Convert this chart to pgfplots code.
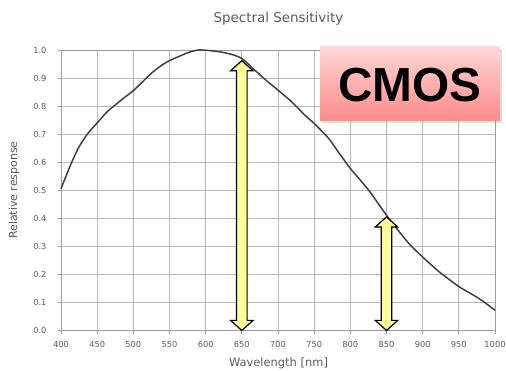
\documentclass[border=0pt]{standalone}
\usepackage{fontspec}
\setmainfont{DejaVu Sans}
\newfontfamily\cmosfont{Liberation Sans}
\usepackage{pgfplots}
\pgfplotsset{compat=1.18}
\usetikzlibrary{shadows}
\definecolor{txt}{HTML}{5A5A5A}
\definecolor{gridc}{HTML}{B8B8B8}
\definecolor{curve}{HTML}{3F3F3F}
\definecolor{arrowfill}{HTML}{FFFF99}
\definecolor{boxtop}{HTML}{FFD6D6}
\definecolor{boxbot}{HTML}{FF8A8A}
\begin{document}
\begin{tikzpicture}
\path[use as bounding box] (0,0) rectangle (506bp,371bp);
\begin{axis}[
  at={(61bp,40.5bp)}, anchor=south west,
  scale only axis, width=434bp, height=280.5bp,
  xmin=400, xmax=1000, ymin=0, ymax=1,
  xtick={400,450,...,1000},
  ytick={0,0.1,...,1.0},
  yticklabel style={/pgf/number format/fixed, /pgf/number format/fixed zerofill, /pgf/number format/precision=1, xshift=-8bp},
  xticklabel style={yshift=-4bp, /pgf/number format/set thousands separator={}},
  /pgf/number format/assume math mode=true,
  tick label style={font=\fontsize{8.3}{9}\selectfont, text=txt},
  grid=major,
  major grid style={draw=gridc, line width=0.7pt},
  axis line style={draw=gridc!85!black, line width=0.7pt},
  tick style={draw=gridc!85!black, line width=0.7pt},
  tick align=outside, major tick length=3bp,
  xtick pos=bottom, ytick pos=left,
  clip=false,
]
\addplot[curve, line width=1.5pt, smooth, tension=0.4] coordinates {
(400,0.505) (414,0.595) (425,0.655) (437,0.702) (450,0.740) (464,0.780)
(483,0.821) (500,0.855) (510,0.880) (529,0.926) (547,0.958) (575,0.990)
(590,1.000) (605,0.998) (621,0.993) (639,0.982) (651,0.968) (665,0.935)
(683,0.893) (700,0.857) (719,0.815) (737,0.768) (750,0.738) (770,0.685)
(784,0.634) (800,0.578) (826,0.498) (853,0.400) (881,0.310) (900,0.262)
(923,0.209) (951,0.155) (978,0.114) (1000,0.072)
};
% arrow at 650 nm
\addplot[draw=black, fill=arrowfill, line width=1.2pt, line join=miter] coordinates {
(650,0) (665.5,0.036) (657.3,0.036) (657.3,0.926) (665.5,0.926) (650,0.962)
(634.5,0.926) (642.7,0.926) (642.7,0.036) (634.5,0.036)
} -- cycle;
% arrow at 850 nm
\addplot[draw=black, fill=arrowfill, line width=1.2pt, line join=miter] coordinates {
(850,0) (865.5,0.036) (857.3,0.036) (857.3,0.369) (865.5,0.369) (850,0.405)
(834.5,0.369) (842.7,0.369) (842.7,0.036) (834.5,0.036)
} -- cycle;
\end{axis}
\node[text=txt, font=\fontsize{13.5}{15}\selectfont] at (278.5bp,352bp) {Spectral Sensitivity};
\node[text=txt, font=\fontsize{11.5}{13}\selectfont] at (278.5bp,8bp) {Wavelength [nm]};
\node[text=txt, font=\fontsize{11}{13}\selectfont, rotate=90] at (14bp,181bp) {Relative response};
\fill[top color=boxtop, bottom color=boxbot, drop shadow={opacity=0.25, shadow xshift=2bp, shadow yshift=-2bp}] (320bp,250bp) rectangle (500bp,324bp);
\node[font=\cmosfont\bfseries\fontsize{48}{50}\selectfont, text=black] at (410bp,286bp) {CMOS};
\end{tikzpicture}
\end{document}
